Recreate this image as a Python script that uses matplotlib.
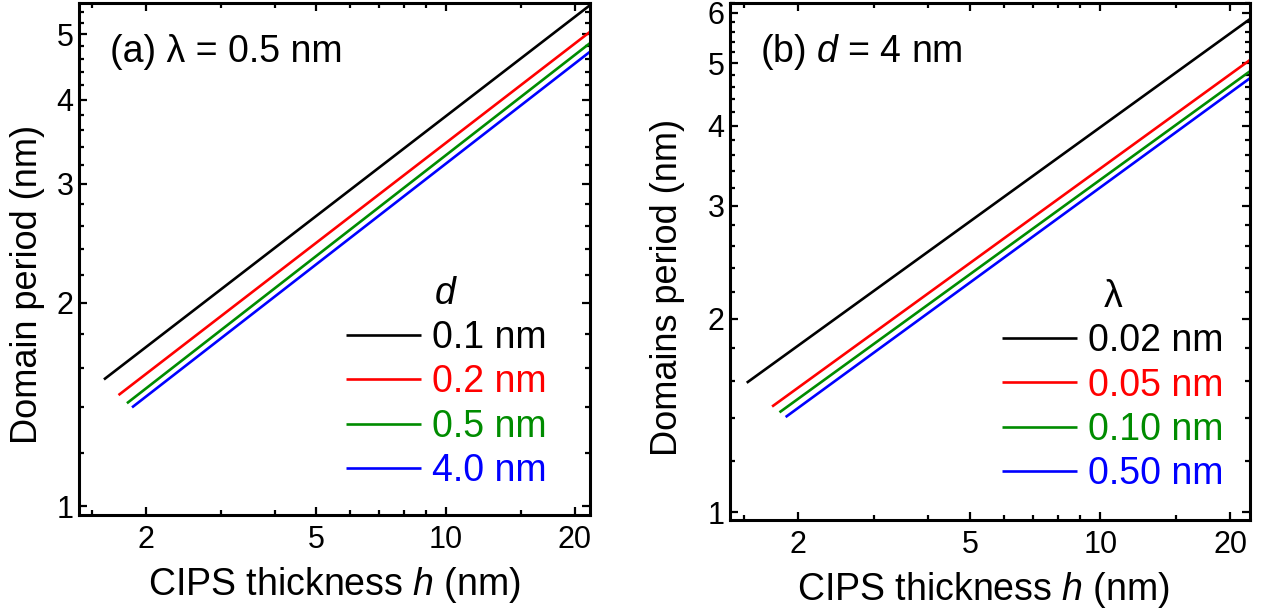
import matplotlib
matplotlib.use("Agg")
import matplotlib.pyplot as plt
from matplotlib.ticker import FixedLocator, FixedFormatter, NullFormatter

plt.rcParams['font.family'] = ['Liberation Sans', 'DejaVu Sans']
plt.rcParams['mathtext.fontset'] = 'custom'
plt.rcParams['mathtext.rm'] = 'Liberation Sans'
plt.rcParams['mathtext.it'] = 'Liberation Sans:italic'

# ---- data ----
colors = ['black', '#FF0000', '#008C00', '#0000FF']

# panel (a): lambda = 0.5 nm, different d
a_labels = ['0.1 nm', '0.2 nm', '0.5 nm', '4.0 nm']
a_h_start = [1.60, 1.73, 1.81, 1.86]
a_p_start = [1.54, 1.46, 1.42, 1.40]
a_h_end = [21.7, 21.7, 21.7, 21.7]
a_p_end = [5.52, 5.04, 4.85, 4.71]

# panel (b): d = 4 nm, different lambda
b_labels = ['0.02 nm', '0.05 nm', '0.10 nm', '0.50 nm']
b_h_start = [1.52, 1.74, 1.81, 1.87]
b_p_start = [1.59, 1.46, 1.43, 1.406]
b_h_end = [22.2, 22.2, 22.2, 22.2]
b_p_end = [5.86, 5.06, 4.86, 4.74]

x_major = [2, 5, 10, 20]
x_major_labels = ['2', '5', '10', '20']
x_minor = [1.5, 3, 4, 6, 7, 8, 9, 15]
a_y_major = [1, 2, 3, 4, 5]
b_y_major = [1, 2, 3, 4, 5, 6]
y_minor = [1.2, 1.4, 1.6, 1.8, 2.2, 2.4, 2.6, 2.8, 3.2, 3.4, 3.6, 3.8,
           4.2, 4.4, 4.6, 4.8, 5.2, 5.4, 5.6, 5.8, 6.2]

fig = plt.figure(figsize=(12.75, 6.15), dpi=100)
axA = fig.add_axes([0.062, 0.1626, 0.4008, 0.8325])
axB = fig.add_axes([0.5725, 0.1545, 0.4078, 0.8407])

TICK_FS = 22
XLAB_FS = 27
YLAB_FS = 26
LEG_FS = 27


def style(ax, xlim, ylim, y_major):
    ax.set_xscale('log')
    ax.set_yscale('log')
    ax.set_xlim(*xlim)
    ax.set_ylim(*ylim)
    ax.xaxis.set_major_locator(FixedLocator(x_major))
    ax.xaxis.set_major_formatter(FixedFormatter(x_major_labels))
    ax.xaxis.set_minor_locator(FixedLocator(x_minor))
    ax.xaxis.set_minor_formatter(NullFormatter())
    ax.yaxis.set_major_locator(FixedLocator(y_major))
    ax.yaxis.set_major_formatter(FixedFormatter([str(v) for v in y_major]))
    ax.yaxis.set_minor_locator(FixedLocator(y_minor))
    ax.yaxis.set_minor_formatter(NullFormatter())
    ax.tick_params(which='both', direction='in', top=True, right=True,
                   labelsize=TICK_FS, width=1.6, color='black')
    ax.tick_params(which='major', length=6)
    ax.tick_params(which='minor', length=3.5)
    ax.tick_params(axis='x', which='both', pad=7)
    ax.tick_params(axis='y', which='both', pad=4)
    for s in ax.spines.values():
        s.set_linewidth(2.2)


def draw(ax, hs, ps, he, pe, labels):
    for i in range(len(labels)):
        ax.plot([hs[i], he[i]], [ps[i], pe[i]], color=colors[i], lw=1.9,
                label=labels[i], solid_capstyle='butt')


draw(axA, a_h_start, a_p_start, a_h_end, a_p_end, a_labels)
draw(axB, b_h_start, b_p_start, b_h_end, b_p_end, b_labels)

style(axA, (1.40, 21.7), (0.970, 5.56), a_y_major)
style(axB, (1.39, 22.2), (0.972, 6.21), b_y_major)

axA.set_ylabel('Domain period (nm)', fontsize=YLAB_FS)
axB.set_ylabel('Domains period (nm)', fontsize=YLAB_FS)
axA.set_xlabel('CIPS thickness $\\mathit{h}$ (nm)', fontsize=XLAB_FS)
axB.set_xlabel('CIPS thickness $\\mathit{h}$ (nm)', fontsize=XLAB_FS)
for ax in (axA, axB):
    ax.yaxis.label.set_va('center')
    ax.xaxis.label.set_va('center')
axA.yaxis.set_label_coords(-0.10, 0.45)
axB.yaxis.set_label_coords(-0.121, 0.45)
axA.xaxis.set_label_coords(0.50, -0.137)
axB.xaxis.set_label_coords(0.487, -0.135)

axA.text(0.061, 0.904, '(a) λ = 0.5 nm', transform=axA.transAxes,
         fontsize=LEG_FS, ha='left', va='center')
axB.text(0.058, 0.905, '(b) $\\mathit{d}$ = 4 nm', transform=axB.transAxes,
         fontsize=LEG_FS, ha='left', va='center')


def legend(ax, title, anchor):
    leg = ax.legend(loc='upper left', bbox_to_anchor=anchor, frameon=False,
                    fontsize=LEG_FS, handlelength=2.0, handletextpad=0.3,
                    labelspacing=0.22, borderpad=0, borderaxespad=0,
                    labelcolor='linecolor', title=title,
                    title_fontsize=LEG_FS)
    for ln in leg.get_lines():
        ln.set_linewidth(1.9)
    return leg


lA = legend(axA, '$\\mathit{d}$', (0.522, 0.467))
lB = legend(axB, 'λ', (0.523, 0.466))

fig.savefig('out.png', dpi=100)
